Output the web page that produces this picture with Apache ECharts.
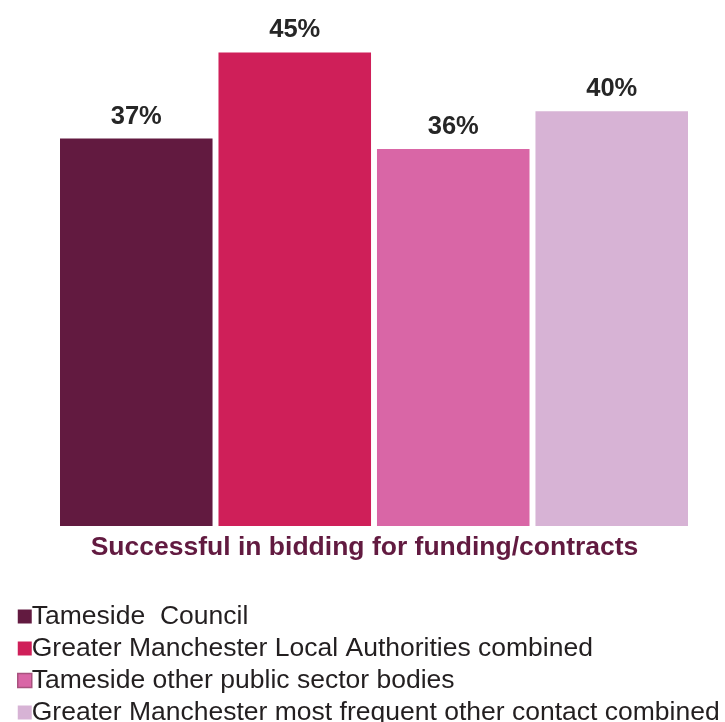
<!DOCTYPE html>
<html>
<head>
<meta charset="utf-8">
<script src="https://cdn.jsdelivr.net/npm/echarts@6/dist/echarts.min.js"></script>
<style>
html,body{margin:0;padding:0;background:#fff;}
#chart{width:725px;height:722px;}
</style>
</head>
<body>
<div id="chart"></div>
<script>
const categories = ["Successful in bidding for funding/contracts"];
const seriesNames = [
  "Tameside  Council",
  "Greater Manchester Local Authorities combined",
  "Tameside other public sector bodies",
  "Greater Manchester most frequent other contact combined"
];
const tamesideCouncil = [36.9];
const gmLocalAuthorities = [45.1];
const tamesideOtherPublic = [35.9];
const gmMostFrequentOther = [39.5];
const seriesValues = [tamesideCouncil, gmLocalAuthorities, tamesideOtherPublic, gmMostFrequentOther];

const colors = ["#621a40", "#cf1f59", "#d966a6", "#d7b3d5"];
const font = "'Liberation Sans', Arial, sans-serif";

const chart = echarts.init(document.getElementById('chart'), null, {renderer: 'canvas'});
const series = seriesNames.map((name, i) => ({
  name: name,
  type: 'bar',
  data: seriesValues[i],
  barGap: '3.9%',
  barCategoryGap: 0,
  itemStyle: {color: colors[i]},
  label: {
    show: true,
    position: 'top',
    distance: 9,
    formatter: p => Math.round(p.value) + '%',
    fontFamily: font,
    fontWeight: 'bold',
    fontSize: 25.5,
    color: '#262626'
  }
}));

chart.setOption({
  animation: false,
  backgroundColor: '#fff',
  color: colors,
  grid: {left: 60, right: 37, top: 1, bottom: 196},
  xAxis: {
    type: 'category',
    data: categories,
    axisLine: {show: false},
    axisTick: {show: false},
    axisLabel: {
      margin: 8,
      padding: [0, 19, 0, 0],
      fontFamily: font,
      fontWeight: 'bold',
      fontSize: 26.5,
      color: '#621a40'
    }
  },
  yAxis: {
    type: 'value',
    min: 0,
    max: 50,
    show: false,
    splitLine: {show: false}
  },
  legend: {
    orient: 'vertical',
    left: 12,
    top: 598,
    height: 300,
    itemWidth: 14,
    itemHeight: 14,
    itemGap: 5,
    icon: 'rect',
    textStyle: {fontFamily: font, fontSize: 26.5, lineHeight: 26, color: '#231f20', padding: [0,0,0,-5]},
    data: seriesNames.map((n, i) => i === 2
      ? {name: n, itemStyle: {borderColor: '#a8527e', borderWidth: 1.5}}
      : {name: n})
  },
  series: series
});
</script>
</body>
</html>
